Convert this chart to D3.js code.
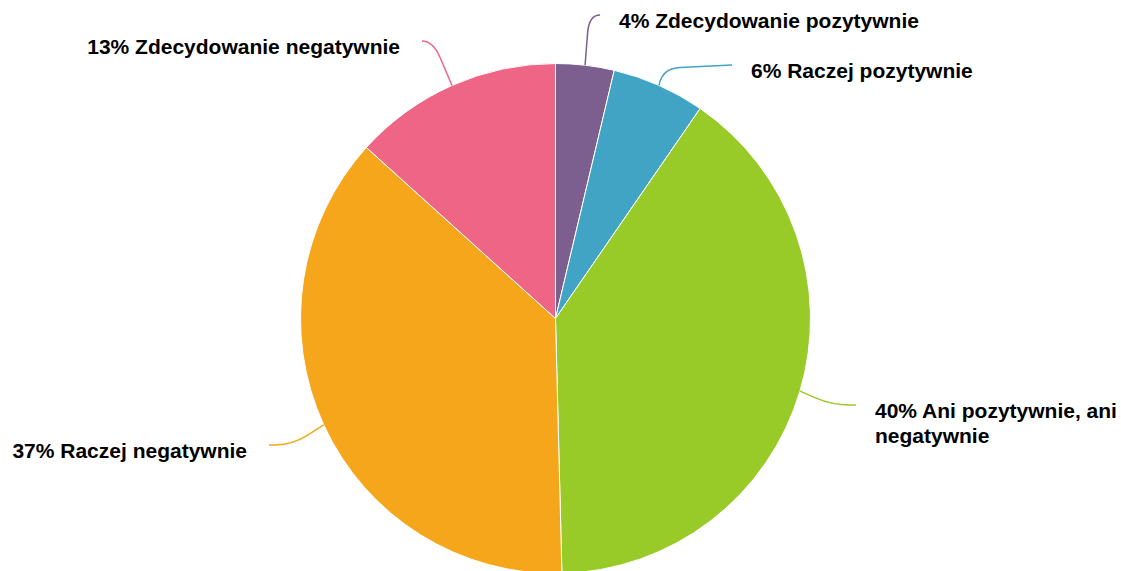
<!DOCTYPE html>
<html>
<head>
<meta charset="utf-8">
<script src="https://cdn.jsdelivr.net/npm/d3@7/dist/d3.min.js"></script>
<style>
  html, body { margin: 0; padding: 0; background: #ffffff; }
  svg { display: block; }
  text { font-family: "Liberation Sans", Arial, Helvetica, sans-serif; font-weight: bold; fill: #000; }
</style>
</head>
<body>
<svg id="chart" width="1121" height="571"></svg>
<script>
// ---- data ----
const categories = [
  "Zdecydowanie pozytywnie",
  "Raczej pozytywnie",
  "Ani pozytywnie, ani negatywnie",
  "Raczej negatywnie",
  "Zdecydowanie negatywnie"
];
const values = [3.7, 5.9, 40.0, 37.1, 13.3];
const percentLabels = ["4%", "6%", "40%", "37%", "13%"];
const colors = ["#7c5f8e", "#42a4c4", "#98ca28", "#f5a61b", "#ef6586"];

// label text lines (wrapping as in the reference)
const labelLines = [
  ["4% Zdecydowanie pozytywnie"],
  ["6% Raczej pozytywnie"],
  ["40% Ani pozytywnie, ani", "negatywnie"],
  ["37% Raczej negatywnie"],
  ["13% Zdecydowanie negatywnie"]
];

// ---- layout ----
const W = 1121, H = 571;
const cx = 555.5, cy = 318.5, R = 255;
// connector anchor (label side), break point and side of the label
const anchors = [
  {x: 600, y: 15, side: 1, bx: 589, by: 15},
  {x: 732, y: 65, side: 1, bx: 662, by: 68.5},
  {x: 856, y: 405, side: 1, bx: 832, by: 405},
  {x: 269, y: 445, side: -1, bx: 292, by: 445},
  {x: 422, y: 41, side: -1, bx: 433, by: 41}
];

const svg = d3.select("#chart");
const g = svg.append("g").attr("transform", `translate(${cx},${cy})`);

const pie = d3.pie().sort(null).value(d => d)(values);
const arc = d3.arc().innerRadius(0).outerRadius(R);

g.selectAll("path.slice")
  .data(pie)
  .join("path")
  .attr("class", "slice")
  .attr("d", arc)
  .attr("fill", (d, i) => colors[i])
  .attr("stroke", "#ffffff")
  .attr("stroke-width", 1)
  .attr("stroke-linejoin", "round");

function softPath(A, B, E, rr) {
  const dA = Math.hypot(A.x - B.x, A.y - B.y) || 1;
  const dE = Math.hypot(E.x - B.x, E.y - B.y) || 1;
  const r1 = Math.min(rr, dA), r2 = Math.min(rr, dE);
  const P1 = {x: B.x + (A.x - B.x) / dA * r1, y: B.y + (A.y - B.y) / dA * r1};
  const P2 = {x: B.x + (E.x - B.x) / dE * r2, y: B.y + (E.y - B.y) / dE * r2};
  return `M${A.x},${A.y}L${P1.x},${P1.y}Q${B.x},${B.y} ${P2.x},${P2.y}L${E.x},${E.y}`;
}

const labels = svg.append("g");
pie.forEach((d, i) => {
  const mid = (d.startAngle + d.endAngle) / 2;
  const E = {x: cx + R * Math.sin(mid), y: cy - R * Math.cos(mid)};
  const a = anchors[i];
  const A = {x: a.x, y: a.y};
  const B = {x: a.bx, y: a.by};
  labels.append("path")
    .attr("d", softPath(A, B, E, 18))
    .attr("fill", "none")
    .attr("stroke", colors[i])
    .attr("stroke-width", 1.5);
  const tx = a.x + (a.side > 0 ? 19 : -22);
  const t = labels.append("text")
    .attr("x", tx)
    .attr("y", a.y + 13)
    .attr("text-anchor", a.side > 0 ? "start" : "end")
    .attr("font-size", 21);
  labelLines[i].forEach((line, j) => {
    t.append("tspan")
      .attr("x", tx)
      .attr("dy", j === 0 ? 0 : 25)
      .text(line);
  });
});
</script>
</body>
</html>
